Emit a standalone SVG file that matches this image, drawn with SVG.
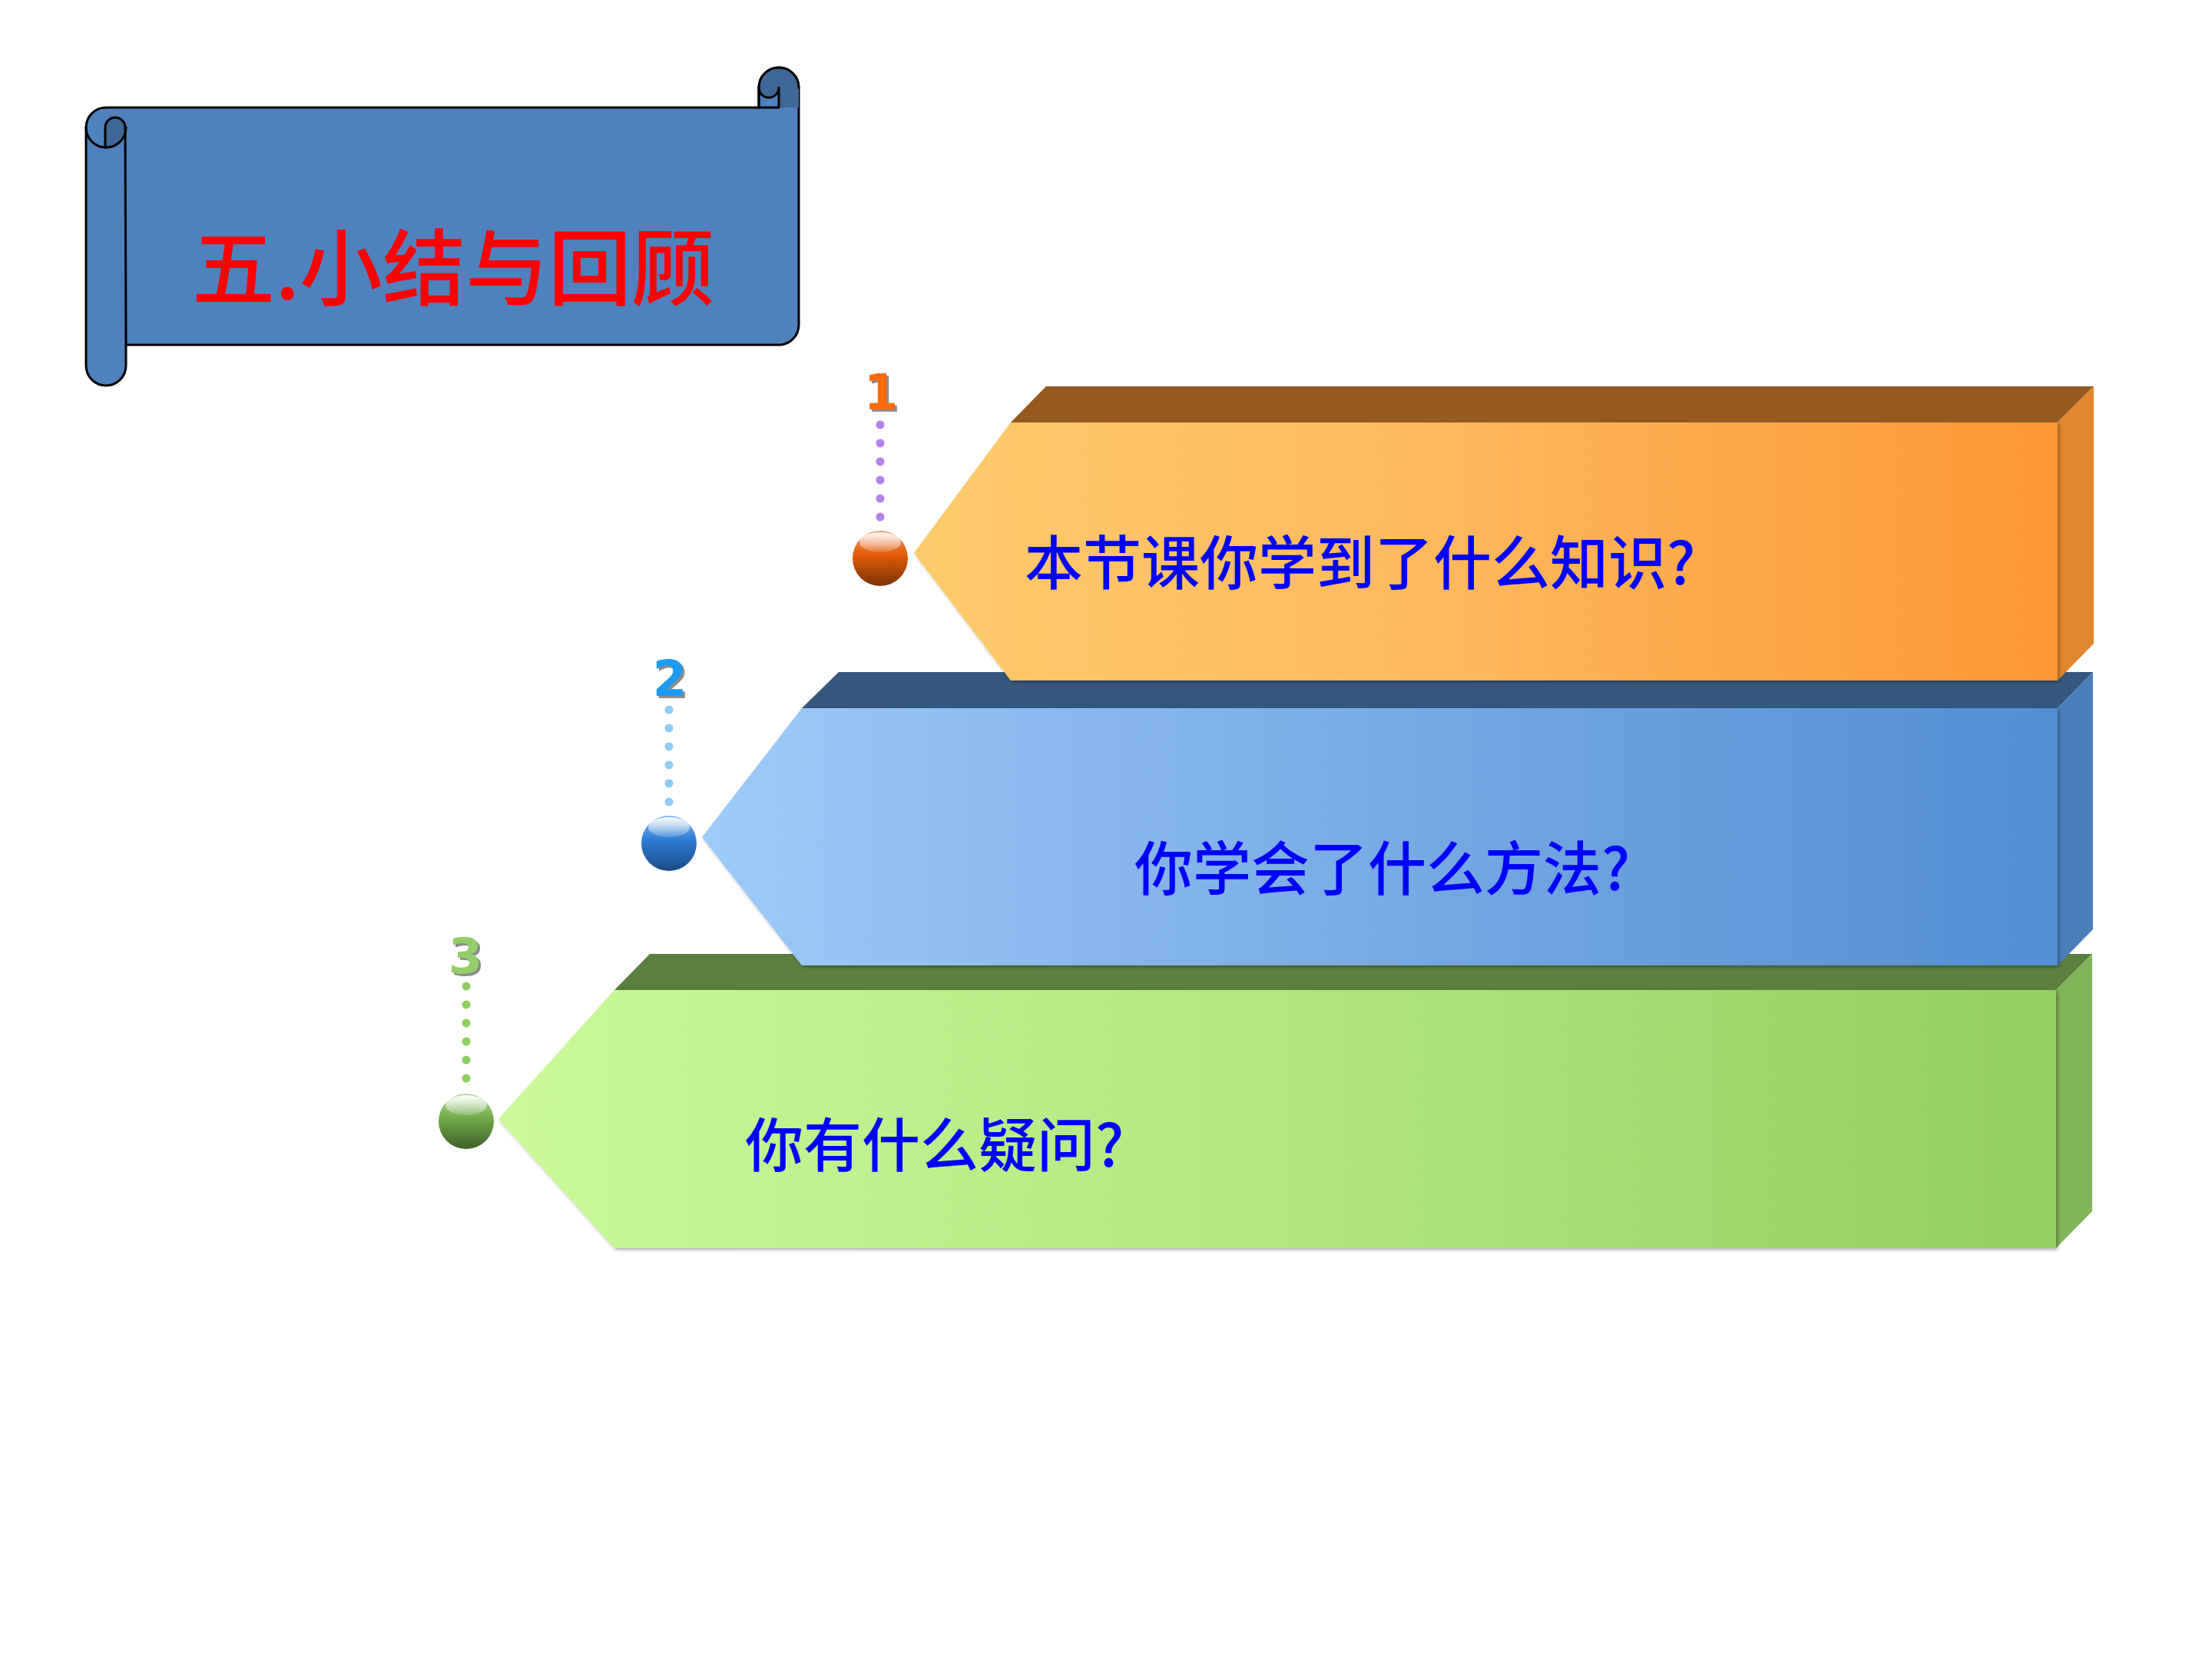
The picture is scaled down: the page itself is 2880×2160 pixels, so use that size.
<svg xmlns="http://www.w3.org/2000/svg" width="2880" height="2160" viewBox="0 0 2880 2160">
<style>
.scroll{fill:#4F81BD;stroke:#000;stroke-width:3;stroke-linejoin:round}
.scrolldark{fill:#3F6797;stroke:none}
.ln{fill:none;stroke:#000;stroke-width:3;stroke-linecap:round;stroke-linejoin:round}
.title{font-family:"Noto Sans CJK SC","Noto Sans CJK TC",sans-serif;font-size:108px;fill:#FF0000;font-weight:500}
.q{font-family:"Noto Sans CJK SC","Noto Sans CJK TC",sans-serif;font-size:76px;fill:#0000FF;font-weight:500}
.num{font-family:"DejaVu Sans","Liberation Sans",sans-serif;font-size:64px;font-weight:700;text-anchor:middle}
.shadow{fill:#8C8C8C}
</style>
<defs>
<linearGradient id="gOr" x1="0" y1="0" x2="1" y2="0">
<stop offset="0" stop-color="#FDCB6C"/><stop offset="0.5" stop-color="#FDB65A"/><stop offset="1" stop-color="#FE9732"/>
</linearGradient>
<linearGradient id="gBl" x1="0" y1="0" x2="1" y2="0">
<stop offset="0" stop-color="#9DCBF8"/><stop offset="0.5" stop-color="#78AAE4"/><stop offset="1" stop-color="#538DD3"/>
</linearGradient>
<linearGradient id="gGr" x1="0" y1="0" x2="1" y2="0">
<stop offset="0" stop-color="#CAFA9A"/><stop offset="0.5" stop-color="#B2E680"/><stop offset="1" stop-color="#92D061"/>
</linearGradient>
<linearGradient id="bOr" x1="0" y1="0" x2="0" y2="1">
<stop offset="0" stop-color="#F49A66"/><stop offset="0.45" stop-color="#E05A04"/><stop offset="1" stop-color="#7A3208"/>
</linearGradient>
<linearGradient id="bBl" x1="0" y1="0" x2="0" y2="1">
<stop offset="0" stop-color="#7FB6EE"/><stop offset="0.45" stop-color="#2E7BD3"/><stop offset="1" stop-color="#1B4A86"/>
</linearGradient>
<linearGradient id="bGr" x1="0" y1="0" x2="0" y2="1">
<stop offset="0" stop-color="#B4DB98"/><stop offset="0.45" stop-color="#6FA94A"/><stop offset="1" stop-color="#3D6029"/>
</linearGradient>
<linearGradient id="hl" x1="0" y1="0" x2="0" y2="1">
<stop offset="0" stop-color="#FFFFFF" stop-opacity="0.95"/><stop offset="1" stop-color="#FFFFFF" stop-opacity="0.15"/>
</linearGradient>
<filter id="sh" x="-5%" y="-5%" width="110%" height="110%">
<feDropShadow dx="2" dy="2" stdDeviation="2" flood-color="#000" flood-opacity="0.35"/>
</filter>
</defs>
<rect width="2880" height="2160" fill="#FFFFFF"/>

<g id="title-scroll">
<path class="scroll" d="M112,166 A26,26 0 0 1 138,140 L988,140 L988,114 A26,26 0 0 1 1040,114 L1040,423 A26,26 0 0 1 1014,449 L164,449 L164,476 A26,26 0 0 1 112,476 Z"/>
<path class="scrolldark" d="M137,166 A13,13 0 0 1 163,166 L163,173 A26,26 0 0 1 137,192 Z"/>
<path class="scrolldark" d="M1014,140 L1014,114 A13,13 0 0 1 988,114 A26,26 0 0 1 1040,114 L1040,140 Z"/>
<path class="ln" d="M112,166 A26,26 0 0 0 164,166"/>
<path class="ln" d="M137,192 L137,166 A13,13 0 0 1 163,166 L164,449"/>
<path class="ln" d="M988,140 L1014,140 L1014,114 A13,13 0 0 1 988,114"/>
<path class="ln" d="M988,140 L988,114 A26,26 0 0 1 1040,114"/>
<text class="title" x="590" y="389" text-anchor="middle">五.小结与回顾</text>
</g>

<g id="connectors">
<g fill="#B581EC">
<circle cx="1146" cy="553" r="5.5"/><circle cx="1146" cy="577" r="5.5"/><circle cx="1146" cy="601" r="5.5"/><circle cx="1146" cy="625" r="5.5"/><circle cx="1146" cy="649" r="5.5"/><circle cx="1146" cy="673" r="5.5"/>
</g>
<g fill="#8DCBF4">
<circle cx="871" cy="924" r="5.5"/><circle cx="871" cy="948" r="5.5"/><circle cx="871" cy="972" r="5.5"/><circle cx="871" cy="996" r="5.5"/><circle cx="871" cy="1020" r="5.5"/><circle cx="871" cy="1044" r="5.5"/>
</g>
<g fill="#8ECF62">
<circle cx="607" cy="1284" r="5.5"/><circle cx="607" cy="1308" r="5.5"/><circle cx="607" cy="1332" r="5.5"/><circle cx="607" cy="1356" r="5.5"/><circle cx="607" cy="1380" r="5.5"/><circle cx="607" cy="1404" r="5.5"/>
</g>
</g>

<g id="item3">
<polygon points="800,1289 846,1242 2724,1242 2677,1289" fill="#5A7F3E"/>
<polygon points="2677,1289 2724,1242 2724,1577 2677,1625" fill="#80B55A"/>
<polygon points="649,1457 800,1289 2677,1289 2677,1625 800,1625" fill="url(#gGr)" filter="url(#sh)"/>
<text class="q" x="970" y="1519">你有什么疑问?</text>
</g>

<g id="item2">
<polygon points="1044,922 1092,875 2725,875 2679,922" fill="#34577E"/>
<polygon points="2679,922 2725,875 2725,1210 2679,1257" fill="#4A7EBB"/>
<polygon points="914,1090 1044,922 2679,922 2679,1257 1044,1257" fill="url(#gBl)" filter="url(#sh)"/>
<text class="q" x="1477" y="1159">你学会了什么方法?</text>
</g>

<g id="item1">
<polygon points="1316,550 1362,503 2726,503 2679,550" fill="#945A20"/>
<polygon points="2679,550 2726,503 2726,838 2679,886" fill="#E0862E"/>
<polygon points="1190,720 1316,550 2679,550 2679,886 1316,886" fill="url(#gOr)" filter="url(#sh)"/>
<text class="q" x="1334" y="761">本节课你学到了什么知识?</text>
</g>

<g id="marker1">
<text class="num shadow" x="1150" y="536">1</text>
<text class="num" x="1147" y="533" fill="#FF6A0A">1</text>
<circle cx="1146" cy="727" r="36" fill="url(#bOr)"/>
<ellipse cx="1146" cy="706" rx="27" ry="13" fill="url(#hl)"/>
</g>
<g id="marker2">
<text class="num shadow" x="875" y="909">2</text>
<text class="num" x="872" y="906" fill="#1C9BF2">2</text>
<circle cx="871" cy="1098" r="36" fill="url(#bBl)"/>
<ellipse cx="871" cy="1077" rx="27" ry="13" fill="url(#hl)"/>
</g>
<g id="marker3">
<text class="num shadow" x="609" y="1270">3</text>
<text class="num" x="606" y="1267" fill="#92CF6B">3</text>
<circle cx="607" cy="1460" r="36" fill="url(#bGr)"/>
<ellipse cx="607" cy="1439" rx="27" ry="13" fill="url(#hl)"/>
</g>
</svg>
